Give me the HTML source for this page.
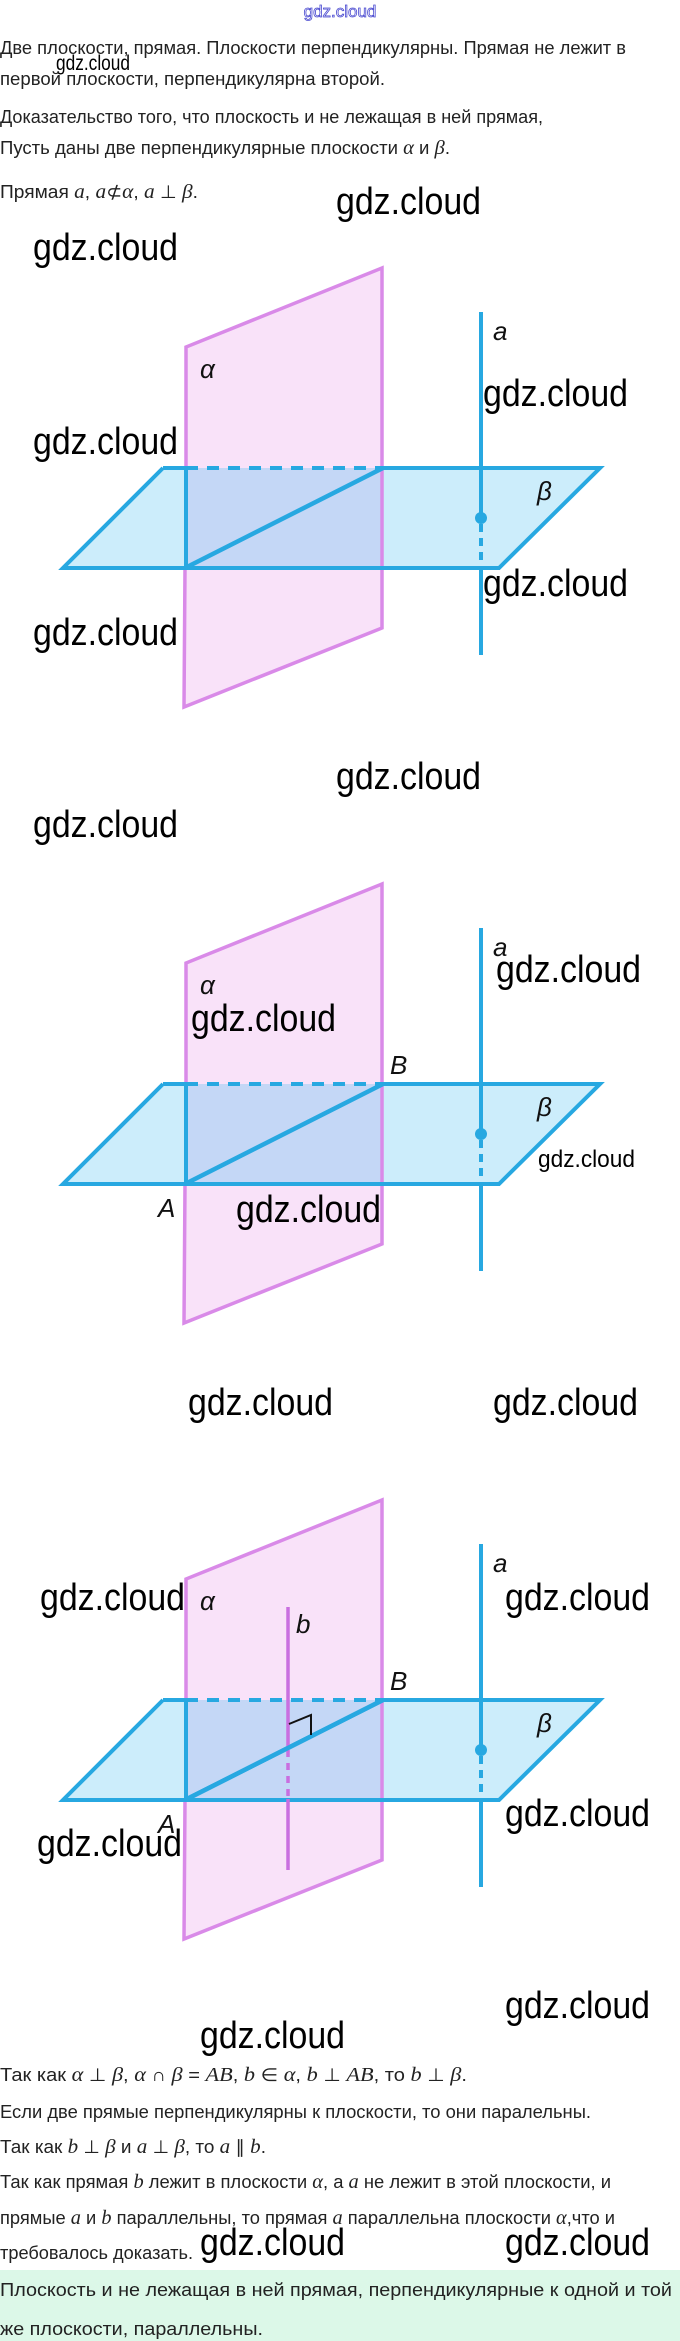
<!DOCTYPE html>
<html><head><meta charset="utf-8"><style>
html,body{margin:0;padding:0;background:#fff;}
svg{display:block;}
.t{font-family:"Liberation Sans",sans-serif;font-size:18px;fill:#222;}
.m{font-family:"Liberation Serif",serif;font-style:italic;font-size:20px;}
.w{font-family:"Liberation Sans",sans-serif;font-size:38px;fill:#000;}
.l{font-family:"Liberation Sans",sans-serif;font-style:italic;font-size:26px;fill:#111;}
</style></head><body>
<svg width="680" height="2341" viewBox="0 0 680 2341" xmlns="http://www.w3.org/2000/svg">
<defs>
<g id="fig">
  <polygon points="186,347 382,268 382,628 184,707" fill="#f9e2f9"/>
  <polygon points="163,468 600,468 499,568 63,568" fill="#ccedfb"/>
  <rect x="186" y="468" width="196" height="100" fill="#c4d7f6"/>
  <polyline points="186,468 186,347 382,268 382,628 184,707 185,568" fill="none" stroke="#d98ae8" stroke-width="3.5"/>
  <line x1="163" y1="468" x2="186" y2="468" stroke="#27a8e1" stroke-width="4"/>
  <line x1="186" y1="468" x2="382" y2="468" stroke="#27a8e1" stroke-width="4" stroke-dasharray="12,9"/>
  <polyline points="382,468 600,468 499,568 63,568 163,468" fill="none" stroke="#27a8e1" stroke-width="4"/>
  <line x1="186" y1="468" x2="186" y2="568" stroke="#27a8e1" stroke-width="4"/>
  <line x1="185" y1="568" x2="383" y2="468" stroke="#27a8e1" stroke-width="4.5"/>
  <line x1="481" y1="312" x2="481" y2="518" stroke="#27a8e1" stroke-width="4"/>
  <line x1="481" y1="524" x2="481" y2="568" stroke="#27a8e1" stroke-width="4" stroke-dasharray="8,6"/>
  <line x1="481" y1="568" x2="481" y2="655" stroke="#27a8e1" stroke-width="4"/>
  <circle cx="481" cy="518" r="6" fill="#27a8e1"/>
  <text class="l" x="200" y="378">α</text>
  <text class="l" x="493" y="340">a</text>
  <text class="l" x="537" y="500">β</text>
</g>
</defs>

<text x="340" y="17" text-anchor="middle" font-family="Liberation Sans,sans-serif" font-size="17" fill="#fff" stroke="#4a4ad0" stroke-width="0.8">gdz.cloud</text>

<text class="t" x="0" y="54" textLength="626" lengthAdjust="spacingAndGlyphs">Две плоскости, прямая. Плоскости перпендикулярны. Прямая не лежит в</text>
<text x="56" y="70" font-family="Liberation Sans,sans-serif" font-size="21" textLength="74" lengthAdjust="spacingAndGlyphs">gdz.cloud</text>
<text class="t" x="0" y="85" textLength="385" lengthAdjust="spacingAndGlyphs">первой плоскости, перпендикулярна второй.</text>
<text class="t" x="0" y="123" textLength="543" lengthAdjust="spacingAndGlyphs">Доказательство того, что плоскость и не лежащая в ней прямая,</text>
<text class="t" x="0" y="154" textLength="450" lengthAdjust="spacingAndGlyphs">Пусть даны две перпендикулярные плоскости <tspan class="m">α</tspan> и <tspan class="m">β</tspan>.</text>
<text class="t" x="0" y="198" textLength="198" lengthAdjust="spacingAndGlyphs">Прямая <tspan class="m">a</tspan>, <tspan class="m">a</tspan>⊄<tspan class="m">α</tspan>, <tspan class="m">a</tspan> ⊥ <tspan class="m">β</tspan>.</text>

<use href="#fig"/>
<g transform="translate(0,616)">
  <use href="#fig"/>
  <text class="l" x="390" y="458">B</text>
  <text class="l" x="158" y="601">A</text>
</g>
<g transform="translate(0,1232)">
  <use href="#fig"/>
  <text class="l" x="390" y="458">B</text>
  <text class="l" x="158" y="601">A</text>
</g>
<line x1="288" y1="1607" x2="288" y2="1747" stroke="#c96fe0" stroke-width="3.5"/>
<line x1="288" y1="1750" x2="288" y2="1799" stroke="#c96fe0" stroke-width="3.5" stroke-dasharray="7,6"/>
<line x1="288" y1="1799" x2="288" y2="1870" stroke="#c96fe0" stroke-width="3.5"/>
<line x1="185" y1="1800" x2="383" y2="1700" stroke="#27a8e1" stroke-width="4.5"/>
<polyline points="289,1724 311,1715 311,1735" fill="none" stroke="#111" stroke-width="2"/>
<text class="l" x="296" y="1633">b</text>

<g class="w">
<text x="336" y="214" textLength="145" lengthAdjust="spacingAndGlyphs">gdz.cloud</text>
<text x="33" y="260" textLength="145" lengthAdjust="spacingAndGlyphs">gdz.cloud</text>
<text x="33" y="454" textLength="145" lengthAdjust="spacingAndGlyphs">gdz.cloud</text>
<text x="33" y="645" textLength="145" lengthAdjust="spacingAndGlyphs">gdz.cloud</text>
<text x="483" y="406" textLength="145" lengthAdjust="spacingAndGlyphs">gdz.cloud</text>
<text x="483" y="596" textLength="145" lengthAdjust="spacingAndGlyphs">gdz.cloud</text>
<text x="336" y="789" textLength="145" lengthAdjust="spacingAndGlyphs">gdz.cloud</text>
<text x="33" y="837" textLength="145" lengthAdjust="spacingAndGlyphs">gdz.cloud</text>
<text x="496" y="982" textLength="145" lengthAdjust="spacingAndGlyphs">gdz.cloud</text>
<text x="191" y="1031" textLength="145" lengthAdjust="spacingAndGlyphs">gdz.cloud</text>
<text x="538" y="1167" font-size="24" textLength="97" lengthAdjust="spacingAndGlyphs">gdz.cloud</text>
<text x="236" y="1222" textLength="145" lengthAdjust="spacingAndGlyphs">gdz.cloud</text>
<text x="188" y="1415" textLength="145" lengthAdjust="spacingAndGlyphs">gdz.cloud</text>
<text x="493" y="1415" textLength="145" lengthAdjust="spacingAndGlyphs">gdz.cloud</text>
<text x="40" y="1610" textLength="145" lengthAdjust="spacingAndGlyphs">gdz.cloud</text>
<text x="505" y="1610" textLength="145" lengthAdjust="spacingAndGlyphs">gdz.cloud</text>
<text x="505" y="1826" textLength="145" lengthAdjust="spacingAndGlyphs">gdz.cloud</text>
<text x="37" y="1856" textLength="145" lengthAdjust="spacingAndGlyphs">gdz.cloud</text>
<text x="505" y="2018" textLength="145" lengthAdjust="spacingAndGlyphs">gdz.cloud</text>
<text x="200" y="2048" textLength="145" lengthAdjust="spacingAndGlyphs">gdz.cloud</text>
</g>

<text class="t" x="0" y="2081" textLength="467" lengthAdjust="spacingAndGlyphs">Так как <tspan class="m">α</tspan> ⊥ <tspan class="m">β</tspan>, <tspan class="m">α</tspan> ∩ <tspan class="m">β</tspan> = <tspan class="m">AB</tspan>, <tspan class="m">b</tspan> ∈ <tspan class="m">α</tspan>, <tspan class="m">b</tspan> ⊥ <tspan class="m">AB</tspan>, то <tspan class="m">b</tspan> ⊥ <tspan class="m">β</tspan>.</text>
<text class="t" x="0" y="2118" textLength="591" lengthAdjust="spacingAndGlyphs">Если две прямые перпендикулярны к плоскости, то они паралельны.</text>
<text class="t" x="0" y="2153" textLength="266" lengthAdjust="spacingAndGlyphs">Так как <tspan class="m">b</tspan> ⊥ <tspan class="m">β</tspan> и <tspan class="m">a</tspan> ⊥ <tspan class="m">β</tspan>, то <tspan class="m">a</tspan> ∥ <tspan class="m">b</tspan>.</text>
<text class="t" x="0" y="2188" textLength="611" lengthAdjust="spacingAndGlyphs">Так как прямая <tspan class="m">b</tspan> лежит в плоскости <tspan class="m">α</tspan>, а <tspan class="m">a</tspan> не лежит в этой плоскости, и</text>
<text class="t" x="0" y="2224" textLength="615" lengthAdjust="spacingAndGlyphs">прямые <tspan class="m">a</tspan> и <tspan class="m">b</tspan> параллельны, то прямая <tspan class="m">a</tspan> параллельна плоскости <tspan class="m">α</tspan>,что и</text>
<text class="t" x="0" y="2259" textLength="193" lengthAdjust="spacingAndGlyphs">требовалось доказать.</text>
<g class="w">
<text x="200" y="2255" textLength="145" lengthAdjust="spacingAndGlyphs">gdz.cloud</text>
<text x="505" y="2255" textLength="145" lengthAdjust="spacingAndGlyphs">gdz.cloud</text>
</g>

<rect x="0" y="2270" width="680" height="71" fill="#dcf8e8"/>
<text class="t" x="0" y="2296" textLength="672" lengthAdjust="spacingAndGlyphs">Плоскость и не лежащая в ней прямая, перпендикулярные к одной и той</text>
<text class="t" x="0" y="2335" textLength="263" lengthAdjust="spacingAndGlyphs">же плоскости, параллельны.</text>
</svg>
</body></html>
